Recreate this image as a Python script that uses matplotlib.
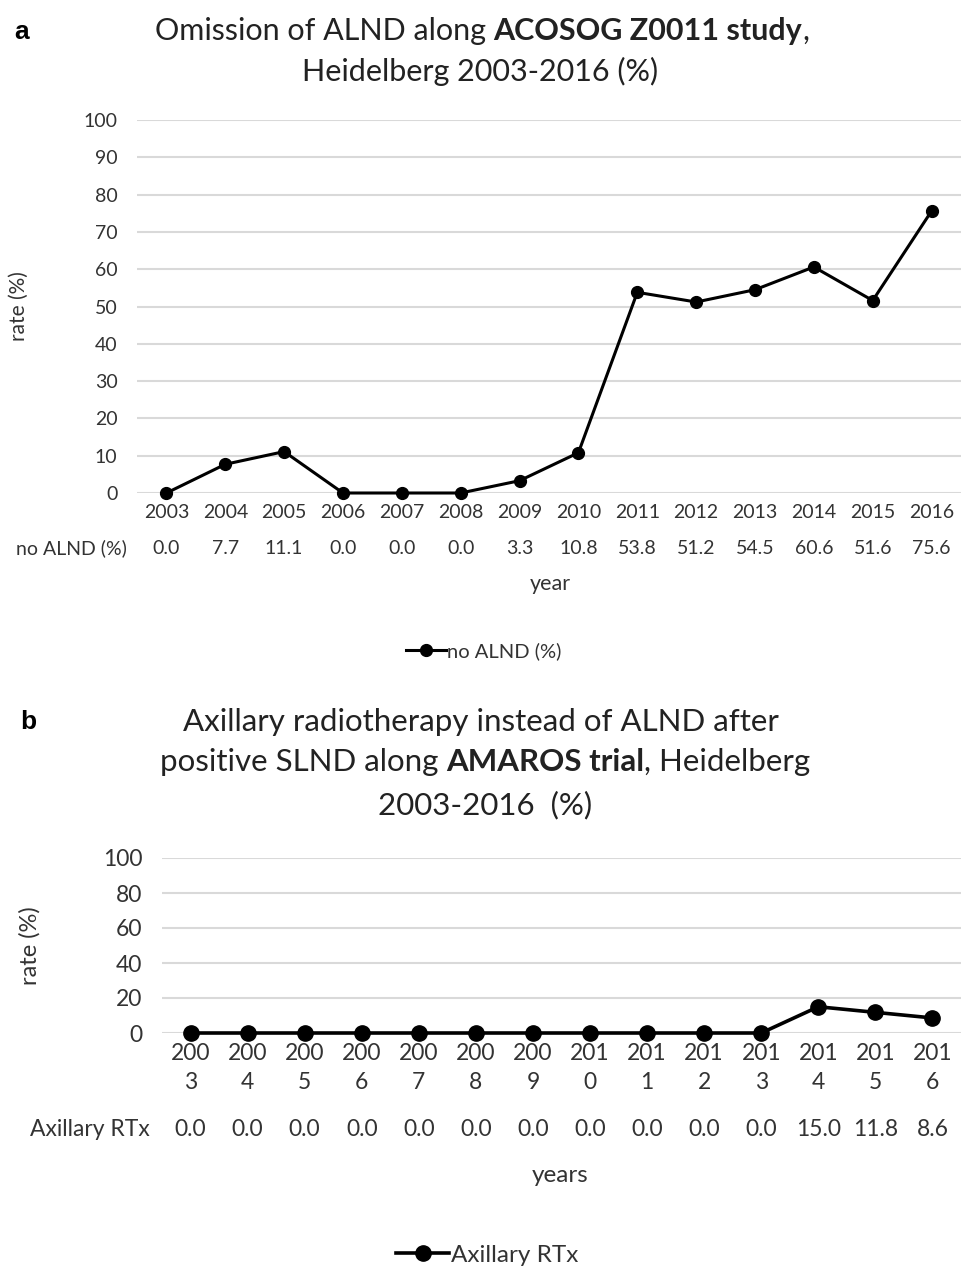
import matplotlib
matplotlib.use("Agg")
import matplotlib.pyplot as plt
from matplotlib.offsetbox import TextArea, HPacker, AnnotationBbox
from matplotlib.lines import Line2D

plt.rcParams['font.family'] = ['Lato', 'DejaVu Sans']

# data
years = [2003, 2004, 2005, 2006, 2007, 2008, 2009, 2010, 2011, 2012, 2013, 2014, 2015, 2016]
no_alnd = [0.0, 7.7, 11.1, 0.0, 0.0, 0.0, 3.3, 10.8, 53.8, 51.2, 54.5, 60.6, 51.6, 75.6]
axillary_rtx = [0.0, 0.0, 0.0, 0.0, 0.0, 0.0, 0.0, 0.0, 0.0, 0.0, 0.0, 15.0, 11.8, 8.6]

W, H = 961, 1267
fig = plt.figure(figsize=(W / 100, H / 100), dpi=100)


def fx(px):
    return px / W


def fy(py):
    return 1 - py / H


def mixed_title(pieces, x, y, size):
    # one line of title with normal and bold parts
    areas = [TextArea(t, textprops=dict(fontsize=size, fontweight=w, color='#222222')) for t, w in pieces]
    box = HPacker(children=areas, align='baseline', pad=0, sep=0)
    ab = AnnotationBbox(box, (x, y), xycoords='figure fraction', frameon=False, box_alignment=(0.5, 0.5))
    fig.add_artist(ab)


def draw_panel(ax, values, labels, ystep, fs, ms, lw, row_label, row_off, xpad, grid_c='#d9d9d9'):
    x = list(range(len(values)))
    ax.plot(x, values, color='black', lw=lw, marker='o', ms=ms, clip_on=False, zorder=3)
    ax.set_xlim(-0.5, len(values) - 0.5)
    ax.set_ylim(0, 100)
    ax.set_yticks(range(0, 101, ystep))
    ax.grid(axis='y', color=grid_c, lw=1.5)
    ax.set_axisbelow(True)
    for s in ax.spines.values():
        s.set_visible(False)
    ax.set_xticks(x)
    ax.set_xticklabels(labels, fontsize=fs, color='#333333', linespacing=1.5)
    ax.tick_params(axis='both', length=0, labelsize=fs, colors='#333333')
    ax.tick_params(axis='x', pad=xpad)
    ax.tick_params(axis='y', pad=14)
    for i, v in enumerate(values):
        ax.annotate(f"{v:.1f}", xy=(i, 0), xycoords=('data', 'axes fraction'),
                    xytext=(0, -row_off * 0.72), textcoords='offset points',
                    ha='center', va='center', fontsize=fs, color='#333333')
    ax.annotate(row_label, xy=(0, 0), xycoords='axes fraction',
                xytext=(0, -row_off * 0.72), textcoords='offset points',
                ha='right', va='center', fontsize=fs, color='#333333')


# panel a
ax1 = fig.add_axes([fx(137), fy(493), fx(961) - fx(137), fy(120) - fy(493)])
draw_panel(ax1, no_alnd, [str(y) for y in years], 10, 14, 8.5, 2.2,
           'no ALND (%)  ', 55, 8)
ax1.set_ylabel('rate (%)', fontsize=15, color='#333333')
ax1.yaxis.set_label_coords(-(fx(137) - fx(29)) / (fx(961) - fx(137)), 0.5)
fig.text(fx(550), fy(584), 'year', ha='center', va='center', fontsize=15.5, color='#333333')
fig.text(fx(22), fy(32), 'a', ha='center', va='center', fontsize=19, fontweight='bold',
         family='Liberation Sans')
mixed_title([('Omission of ALND along ', 'normal'), ('ACOSOG Z0011 study', 'bold'), (',', 'normal')],
            fx(482), fy(31), 22)
mixed_title([('Heidelberg 2003-2016 (%)', 'normal')], fx(480), fy(71), 22)
h1 = Line2D([0], [0], color='black', lw=2.2, marker='o', ms=8.5)
fig.legend([h1], ['no ALND (%)'], loc='center', bbox_to_anchor=(fx(484), fy(651)), frameon=False,
           fontsize=14.5, handlelength=2.0, handletextpad=0.05, labelcolor='#333333')

# panel b
ax2 = fig.add_axes([fx(162), fy(1033), fx(961) - fx(162), fy(858) - fy(1033)])
draw_panel(ax2, axillary_rtx, [f"{str(y)[:3]}\n{str(y)[3]}" for y in years], 20, 16.5, 11, 2.6,
           'Axillary RTx  ', 96, 7)
ax2.set_ylabel('rate (%)', fontsize=17, color='#333333')
ax2.yaxis.set_label_coords(-(fx(162) - fx(41)) / (fx(961) - fx(162)), 0.5)
fig.text(fx(560), fy(1175), 'years', ha='center', va='center', fontsize=17.5, color='#333333')
fig.text(fx(28), fy(722), 'b', ha='center', va='center', fontsize=19, fontweight='bold',
         family='Liberation Sans')
mixed_title([('Axillary radiotherapy instead of ALND after', 'normal')], fx(481), fy(722), 22.5)
mixed_title([('positive SLND along ', 'normal'), ('AMAROS trial', 'bold'), (', Heidelberg', 'normal')],
            fx(485), fy(762), 22.5)
mixed_title([('2003-2016  (%)', 'normal')], fx(485), fy(805), 22.5)
h2 = Line2D([0], [0], color='black', lw=2.6, marker='o', ms=11)
fig.legend([h2], ['Axillary RTx'], loc='center', bbox_to_anchor=(fx(487), fy(1255)), frameon=False,
           fontsize=17.5, handlelength=2.2, handletextpad=0.05, labelcolor='#333333')

fig.savefig('out.png', dpi=100)
